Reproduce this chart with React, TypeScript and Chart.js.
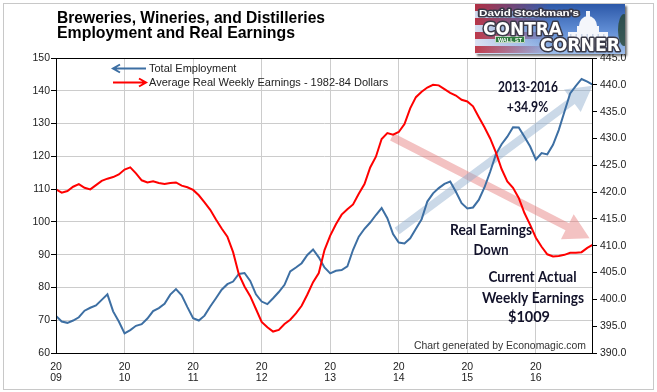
import React, { useEffect, useRef } from "react";
import { Chart, registerables } from "chart.js";

Chart.register(...registerables);

// ---------- DATA ----------
const YEAR_TICKS: string[] = ["2009", "2010", "2011", "2012", "2013", "2014", "2015", "2016"];
const MONTHS_PER_YEAR = 12;

// Total Employment (thousands), monthly Jan 2009 - Nov 2016 (left axis)
const employment: number[] = [
  71.3, 69.6, 69.2, 69.9, 70.9, 72.9, 73.8, 74.5, 76.2, 77.9, 72.7, 69.6,
  66.0, 67.0, 68.3, 68.8, 70.5, 72.8, 73.7, 75.0, 77.8, 79.5, 77.6, 74.0,
  70.6, 69.9, 71.4, 74.2, 76.7, 79.3, 81.0, 81.8, 84.1, 84.4, 82.0, 77.9,
  75.7, 74.9, 76.7, 78.6, 80.8, 84.9, 86.1, 87.4, 89.9, 91.6, 89.2, 86.1,
  84.3, 85.1, 85.3, 86.4, 91.5, 95.5, 97.9, 99.8, 102.1, 104.2, 101.1, 96.3,
  93.7, 93.4, 95.0, 97.9, 100.8, 106.2, 108.7, 110.3, 111.6, 112.3, 109.2, 105.7,
  104.1, 104.4, 106.7, 110.5, 115.3, 120.6, 123.7, 126.0, 128.9, 128.8, 126.0, 123.0,
  119.0, 121.0, 120.6, 123.5, 128.0, 133.6, 139.2, 141.5, 143.6, 142.8, 141.8,
];

// Average Real Weekly Earnings - 1982-84 Dollars (right axis)
const realEarnings: number[] = [
  420.5, 419.9, 420.2, 421.0, 421.5, 420.8, 420.5, 421.3, 422.1, 422.5, 422.8, 423.3,
  424.2, 424.6, 423.5, 422.2, 421.8, 422.0, 421.7, 421.5, 421.7, 421.8, 421.2, 420.9,
  420.4, 419.4, 418.1, 416.7, 414.9, 413.2, 411.7, 408.8, 404.7, 402.4, 400.6, 398.2,
  395.8, 394.8, 394.0, 394.3, 395.4, 396.2, 397.4, 398.8, 400.9, 403.2, 404.9, 409.2,
  411.9, 414.0, 415.8, 416.8, 417.7, 419.7, 421.5, 424.6, 426.6, 429.9, 431.0, 430.7,
  431.2, 432.7, 435.6, 437.7, 438.7, 439.5, 440.0, 439.9, 439.2, 438.5, 438.0, 437.2,
  436.9, 436.0, 434.0, 432.1, 430.0, 427.4, 424.3, 422.0, 420.8, 418.9, 416.1, 413.9,
  411.5, 409.8, 408.4, 408.0, 408.1, 408.3, 408.7, 408.7, 408.8, 409.6, 410.2,
];

const LEFT_MIN = 60, LEFT_MAX = 150, LEFT_STEP = 10;
const RIGHT_MIN = 390, RIGHT_MAX = 445, RIGHT_STEP = 5;

const SERIES_NAMES: string[] = ["Total Employment", "Average Real Weekly Earnings - 1982-84 Dollars"];
const TITLE_LINES: string[] = ["Breweries, Wineries, and Distilleries", "Employment and Real Earnings"];
const CREDIT = "Chart generated by Economagic.com";

const BLUE = "#3d6fa3";
const RED = "#ff0000";
const SANS = "'Liberation Sans', Arial, sans-serif";
const NOTE_FONT = "Lato, 'Open Sans', sans-serif";

// ---------- helpers ----------
function fitText(ctx: CanvasRenderingContext2D, text: string, x: number, baseline: number, width: number, font: string, align: "left" | "center" | "right") {
  ctx.save();
  ctx.font = font;
  ctx.textAlign = align;
  ctx.textBaseline = "alphabetic";
  const w = ctx.measureText(text).width;
  const sx = w > 0 ? width / w : 1;
  ctx.translate(x, baseline);
  ctx.scale(sx, 1);
  ctx.fillText(text, 0, 0);
  ctx.restore();
}

function bigArrow(ctx: CanvasRenderingContext2D, x1: number, y1: number, x2: number, y2: number, shaft: number, headW: number, headL: number, color: string) {
  const dx = x2 - x1, dy = y2 - y1;
  const len = Math.hypot(dx, dy);
  const ux = dx / len, uy = dy / len;
  const px = -uy, py = ux;
  const bx = x2 - ux * headL, by = y2 - uy * headL;
  ctx.beginPath();
  ctx.moveTo(x1 + px * shaft / 2, y1 + py * shaft / 2);
  ctx.lineTo(bx + px * shaft / 2, by + py * shaft / 2);
  ctx.lineTo(bx + px * headW / 2, by + py * headW / 2);
  ctx.lineTo(x2, y2);
  ctx.lineTo(bx - px * headW / 2, by - py * headW / 2);
  ctx.lineTo(bx - px * shaft / 2, by - py * shaft / 2);
  ctx.lineTo(x1 - px * shaft / 2, y1 - py * shaft / 2);
  ctx.closePath();
  ctx.fillStyle = color;
  ctx.fill();
}

function legendArrow(ctx: CanvasRenderingContext2D, x1: number, x2: number, y: number, headLeft: boolean, color: string) {
  ctx.save();
  ctx.strokeStyle = color;
  ctx.lineWidth = 2;
  ctx.beginPath();
  ctx.moveTo(x1, y);
  ctx.lineTo(x2, y);
  const hx = headLeft ? x1 : x2;
  const d = headLeft ? 7 : -7;
  ctx.moveTo(hx + d, y - 4);
  ctx.lineTo(hx, y);
  ctx.lineTo(hx + d, y + 4);
  ctx.stroke();
  ctx.restore();
}

function drawLogo(ctx: CanvasRenderingContext2D) {
  const x = 475, y = 4, w = 150, h = 50;
  ctx.save();
  ctx.shadowColor = "rgba(0,0,0,0.55)";
  ctx.shadowOffsetX = 2;
  ctx.shadowOffsetY = 2;
  ctx.shadowBlur = 2;
  const g = ctx.createLinearGradient(x, y, x, y + h);
  g.addColorStop(0, "#2c58a8");
  g.addColorStop(0.5, "#5d8ad2");
  g.addColorStop(1, "#9dbdea");
  ctx.fillStyle = g;
  ctx.fillRect(x, y, w, h);
  ctx.restore();

  ctx.save();
  ctx.beginPath();
  ctx.rect(x, y, w, h);
  ctx.clip();
  // flag-like stripes at left
  for (let i = 0; i < 8; i++) {
    const sy = y + i * 7;
    const sg = ctx.createLinearGradient(x, 0, x + 75, 0);
    const c = i % 2 === 0 ? "200,40,50" : "235,235,245";
    sg.addColorStop(0, `rgba(${c},0.85)`);
    sg.addColorStop(1, `rgba(${c},0)`);
    ctx.fillStyle = sg;
    ctx.fillRect(x, sy, 75, 7);
  }
  // capitol
  ctx.fillStyle = "#f4f6fb";
  ctx.beginPath();
  ctx.ellipse(588, 26, 9, 10, 0, Math.PI, 0);
  ctx.fill();
  ctx.fillRect(586, 11, 4, 6);
  ctx.fillRect(577, 26, 22, 6);
  ctx.fillRect(568, 32, 40, 15);
  ctx.fillStyle = "#c9d3e6";
  for (let i = 0; i < 7; i++) ctx.fillRect(570 + i * 5.5, 34, 1.5, 11);
  // tree at right edge
  ctx.fillStyle = "rgba(40,70,50,0.8)";
  ctx.beginPath();
  ctx.ellipse(624, 30, 6, 16, 0, 0, Math.PI * 2);
  ctx.fill();
  // wall st sign
  ctx.fillStyle = "#2f7d3f";
  ctx.fillRect(495, 36, 30, 7);
  ctx.strokeStyle = "#e8f0e8";
  ctx.lineWidth = 0.8;
  ctx.strokeRect(495.5, 36.5, 29, 6);
  ctx.fillStyle = "#ffffff";
  fitText(ctx, "WALL ST", 510, 42, 24, `bold 6px ${SANS}`, "center");
  // texts
  const outlined = (t: string, tx: number, ty: number, tw: number, font: string) => {
    ctx.save();
    ctx.font = font;
    const mw = ctx.measureText(t).width;
    ctx.translate(tx, ty);
    ctx.scale(tw / mw, 1);
    ctx.lineJoin = "round";
    ctx.strokeStyle = "#3a3a48";
    ctx.lineWidth = 3;
    ctx.textAlign = "left";
    ctx.strokeText(t, 0, 0);
    ctx.fillStyle = "#ffffff";
    ctx.fillText(t, 0, 0);
    ctx.restore();
  };
  outlined("David Stockman's", 479, 13.5, 100, `bold 9px ${SANS}`);
  outlined("CONTRA", 483, 30.5, 79, `bold 17px 'DejaVu Sans', sans-serif`);
  outlined("CORNER", 540, 46.5, 80, `bold 17px 'DejaVu Sans', sans-serif`);
  ctx.restore();
}

const overlayPlugin = {
  id: "overlay",
  beforeDatasetsDraw(chart: any) {
    const ctx: CanvasRenderingContext2D = chart.ctx;
    const xs = chart.scales.x, yl = chart.scales.y, yr = chart.scales.y1;
    ctx.save();
    // red "Real Earnings Down" arrow
    bigArrow(ctx, xs.getPixelForValue(58.8), yr.getPixelForValue(430.3), xs.getPixelForValue(93.4), yr.getPixelForValue(411.4), 8, 28, 25, "rgba(228,120,120,0.45)");
    // blue "2013-2016" arrow
    bigArrow(ctx, xs.getPixelForValue(59.7), yl.getPixelForValue(97.2), xs.getPixelForValue(93.9), yl.getPixelForValue(141.5), 8, 28, 25, "rgba(140,170,205,0.45)");
    ctx.restore();
  },
  afterDraw(chart: any) {
    const ctx: CanvasRenderingContext2D = chart.ctx;
    const a = chart.chartArea;
    ctx.save();
    // plot frame
    ctx.strokeStyle = "#000";
    ctx.lineWidth = 1;
    ctx.strokeRect(Math.round(a.left) + 0.5, Math.round(a.top) + 0.5, Math.round(a.right - a.left) - 1, Math.round(a.bottom - a.top));

    // title
    ctx.fillStyle = "#000";
    fitText(ctx, TITLE_LINES[0], 57, 22.5, 268, `bold 17px ${SANS}`, "left");
    fitText(ctx, TITLE_LINES[1], 57, 38, 238, `bold 17px ${SANS}`, "left");

    // legend
    legendArrow(ctx, 113, 146, 68.5, true, BLUE);
    legendArrow(ctx, 113, 146, 82.5, false, RED);
    ctx.fillStyle = "#222";
    ctx.font = `11px ${SANS}`;
    ctx.textAlign = "left";
    ctx.textBaseline = "middle";
    ctx.fillText(SERIES_NAMES[0], 149, 68.5);
    ctx.fillText(SERIES_NAMES[1], 149, 82.5);

    // annotations
    ctx.fillStyle = "#12122a";
    const nf = `bold 15px ${NOTE_FONT}`;
    fitText(ctx, "2013-2016", 528, 91.7, 60, nf, "center");
    fitText(ctx, "+34.9%", 527.5, 111.7, 41.5, nf, "center");
    fitText(ctx, "Real Earnings", 491, 235, 82, nf, "center");
    fitText(ctx, "Down", 491, 255, 35, nf, "center");
    fitText(ctx, "Current Actual", 532.5, 282.3, 88, nf, "center");
    fitText(ctx, "Weekly Earnings", 533, 303, 102, nf, "center");
    fitText(ctx, "$1009", 529, 322, 42, nf, "center");

    // credit
    ctx.fillStyle = "#333";
    fitText(ctx, CREDIT, 586, 349, 172, `11px ${SANS}`, "right");

    drawLogo(ctx);
    ctx.restore();
  },
};

export default function App() {
  const canvasRef = useRef<HTMLCanvasElement | null>(null);

  useEffect(() => {
    const canvas = canvasRef.current;
    if (!canvas) return;
    const lastIndex = employment.length - 1;
    const empPoints = employment.map((v, i) => ({ x: i, y: v }));
    const earnPoints = realEarnings.map((v, i) => ({ x: i, y: v }));

    const chart = new Chart(canvas, {
      type: "line",
      data: {
        datasets: [
          {
            label: SERIES_NAMES[0],
            data: empPoints,
            yAxisID: "y",
            borderColor: BLUE,
            borderWidth: 2,
            pointRadius: 0,
            tension: 0,
            order: 2,
          },
          {
            label: SERIES_NAMES[1],
            data: earnPoints,
            yAxisID: "y1",
            borderColor: RED,
            borderWidth: 2,
            pointRadius: 0,
            tension: 0,
            order: 1,
          },
        ],
      },
      options: {
        responsive: false,
        animation: false,
        devicePixelRatio: 1,
        layout: { padding: { top: 58, left: 0, right: 0, bottom: 0 } },
        plugins: {
          legend: { display: false },
          title: { display: false },
          tooltip: { enabled: false },
        },
        scales: {
          x: {
            type: "linear",
            min: 0,
            max: lastIndex,
            afterFit: (s: any) => { s.height = 39; },
            grid: { color: "#cccccc", drawTicks: false, lineWidth: 1 },
            border: { display: false },
            ticks: {
              stepSize: MONTHS_PER_YEAR,
              includeBounds: false,
              autoSkip: false,
              maxRotation: 0,
              padding: 9,
              color: "#222",
              font: { family: SANS, size: 10.5, lineHeight: 1.05 },
              callback: (v: any) => {
                const idx = Math.round(Number(v) / MONTHS_PER_YEAR);
                const yr = YEAR_TICKS[idx];
                return yr ? [yr.slice(0, 2), yr.slice(2)] : "";
              },
            },
          },
          y: {
            position: "left",
            min: LEFT_MIN,
            max: LEFT_MAX,
            afterFit: (s: any) => { s.width = 56; },
            grid: { color: "#cccccc", tickColor: "#000", tickLength: 5, lineWidth: 1 },
            border: { display: false },
            ticks: {
              stepSize: LEFT_STEP,
              padding: 1,
              color: "#222",
              font: { family: SANS, size: 10.5 },
            },
          },
          y1: {
            position: "right",
            min: RIGHT_MIN,
            max: RIGHT_MAX,
            afterFit: (s: any) => { s.width = 64; },
            grid: { drawOnChartArea: false, tickColor: "#000", tickLength: 4 },
            border: { display: false },
            ticks: {
              stepSize: RIGHT_STEP,
              padding: 3,
              color: "#222",
              font: { family: SANS, size: 10.5 },
              callback: (v: any) => Number(v).toFixed(1),
            },
          },
        },
      },
      plugins: [overlayPlugin],
    });
    return () => chart.destroy();
  }, []);

  return (
    <div style={{ position: "fixed", left: 0, top: 0, width: 657, height: 392, background: "#fff", overflow: "hidden" }}>
      <div style={{ position: "absolute", left: 3, top: 3, width: 651, height: 387, boxSizing: "border-box", border: "1px solid #c8c8c8" }} />
      <canvas ref={canvasRef} width={657} height={392} style={{ position: "absolute", left: 0, top: 0, width: 657, height: 392 }} />
    </div>
  );
}
